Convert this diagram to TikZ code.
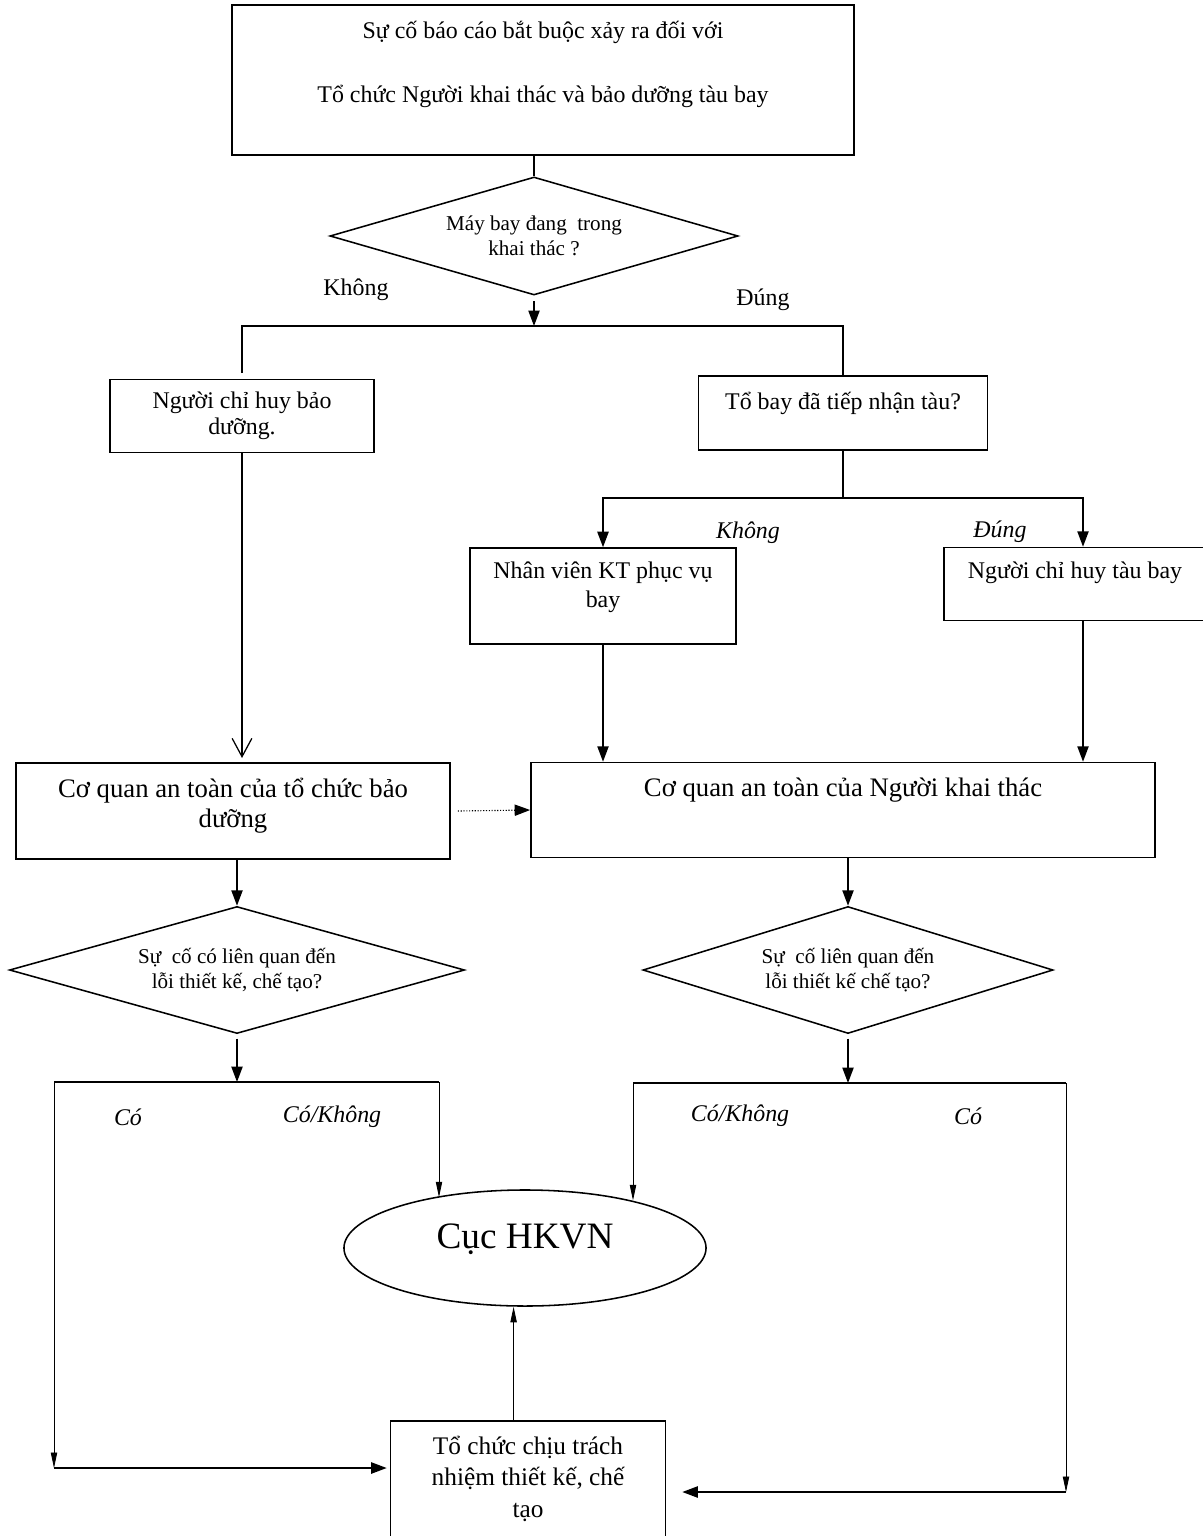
\documentclass[tikz,border=0pt]{standalone}
\usepackage{fontspec}
\setmainfont{Liberation Serif}
\usetikzlibrary{arrows.meta,shapes.geometric}

\begin{document}
\begin{tikzpicture}[x=0.025cm, y=-0.025cm,
    box/.style={draw, line width=1.1pt, align=center, inner sep=0pt},
    dec/.style={draw, diamond, aspect=3.5, line width=1.1pt, align=center, inner sep=0pt},
    ln/.style={line width=1.1pt},
    arr/.style={line width=1.1pt, -{Triangle[length=11pt,width=8pt]}},
    thinarr/.style={line width=0.6pt, -{Triangle[length=11pt,width=4.5pt]}},
    vee/.style={line width=0.9pt, -{Straight Barb[length=13pt,width=14pt]}},
    lbl/.style={inner sep=0pt, font=\fontsize{17}{20}\selectfont},
    ilbl/.style={inner sep=0pt, font=\fontsize{17}{20}\selectfont\itshape}]
  \useasboundingbox (0,0) rectangle (1202,1536);

  % boxes and decisions
  \node[box, minimum width=15.55cm, minimum height=3.75cm, text depth=26pt, font=\fontsize{17}{20}\selectfont] (top) at (543,80) {Sự cố báo cáo bắt buộc xảy ra đối với\\[26pt]Tổ chức Người khai thác và bảo dưỡng tàu bay};
  \node[dec, minimum width=10.2cm, minimum height=2.95cm, font=\fontsize{15}{18}\selectfont] (may) at (534,236) {Máy bay đang\ \ trong\\khai thác ?};
  \node[box, minimum width=6.6cm, minimum height=1.825cm, font=\fontsize{17}{18.5}\selectfont] (nguoiBD) at (242,416) {Người chỉ huy bảo\\dưỡng.};
  \node[box, minimum width=7.225cm, minimum height=1.85cm, text depth=17.7pt, font=\fontsize{17}{20}\selectfont] (toBay) at (843,413) {Tổ bay đã tiếp nhận tàu?};
  \node[box, minimum width=6.65cm, minimum height=2.4cm, text depth=15.7pt, font=\fontsize{17}{20.6}\selectfont] (nhanVien) at (603,596) {Nhân viên KT phục vụ\\bay};
  \node[box, minimum width=6.55cm, minimum height=1.825cm, text depth=19.7pt, font=\fontsize{17}{20}\selectfont] (nguoiTB) at (1075,584) {Người chỉ huy tàu bay};
  \node[box, minimum width=10.85cm, minimum height=2.4cm, text depth=12pt, font=\fontsize{19}{21.5}\selectfont] (coqBD) at (233,811) {Cơ quan an toàn của tổ chức bảo\\dưỡng};
  \node[box, minimum width=15.6cm, minimum height=2.375cm, text depth=33pt, font=\fontsize{19}{21.5}\selectfont] (coqKT) at (843,810) {Cơ quan an toàn của Người khai thác};
  \node[dec, minimum width=11.375cm, minimum height=3.175cm, font=\fontsize{15}{18}\selectfont] (loiBD) at (237,970) {Sự\ \ cố có liên quan đến\\lỗi thiết kế, chế tạo?};
  \node[dec, minimum width=10.25cm, minimum height=3.175cm, font=\fontsize{15}{18}\selectfont] (loiKT) at (848,970) {Sự\ \ cố liên quan đến\\lỗi thiết kế chế tạo?};
  \node[draw, ellipse, line width=1.1pt, inner sep=0pt, minimum width=9.05cm, minimum height=2.9cm, text depth=17.5pt, font=\fontsize{26.5}{30}\selectfont] (cuc) at (525,1248) {Cục HKVN};
  \node[box, minimum width=6.875cm, minimum height=3.1cm, text depth=9pt, font=\fontsize{18}{22.5}\selectfont] (thietKe) at (528,1483) {Tổ chức chịu trách\\nhiệm thiết kế, chế\\tạo};

  % branch labels
  \node[lbl] (khong) at (356,290) {Không};
  \node[lbl] (dung) at (763,300) {Đúng};
  \node[ilbl] (khong2) at (748,533) {Không};
  \node[ilbl] (dung2) at (1000,532) {Đúng};
  \node[ilbl] (co1) at (128,1117) {Có};
  \node[ilbl] (coK1) at (332,1117) {Có/Không};
  \node[ilbl] (coK2) at (740,1116) {Có/Không};
  \node[ilbl] (co2) at (968,1116) {Có};

  \coordinate (s1) at (534,326);
  \coordinate (s2) at (843,498);
  \coordinate (s3) at (237,1082);
  \coordinate (s3l) at (54,1082);
  \coordinate (s3r) at (439,1082);
  \coordinate (s4) at (848,1083);
  \coordinate (s4l) at (633,1083);
  \coordinate (s4r) at (1066,1083);
  \coordinate (c1) at (54,1468);
  \coordinate (c2) at (1066,1492);

  \draw[ln] (top.south -| may.north) -- (may.north);
  \draw[arr] ([yshift=-4pt]may.south) -- (s1);
  \draw[ln] ([yshift=4pt]nguoiBD.north) |- (s1) -| (toBay.north);
  \draw[vee] (nguoiBD.south) -- ([yshift=3pt]nguoiBD.south |- coqBD.north);
  \draw[ln] (toBay.south) -- (s2);
  \draw[arr] (s2) -| (nhanVien.north);
  \draw[arr] (s2) -| ([xshift=0.2cm]nguoiTB.north);
  \draw[arr] (nhanVien.south) -- (nhanVien.south |- coqKT.north);
  \draw[arr] ([xshift=0.2cm]nguoiTB.south) -- ([xshift=0.2cm]nguoiTB.south |- coqKT.north);
  \draw[arr, line width=0.8pt, dash pattern=on 0.8pt off 1.2pt] ([xshift=0.175cm]coqBD.east) -- (coqKT.west);

  \draw[arr] (loiBD.north |- coqBD.south) -- (loiBD.north);
  \draw[arr] ([yshift=-3pt]loiBD.south) -- (s3);
  \draw[ln] (s3l) -- (s3r);
  \draw[thinarr] (s3l) -- (c1);
  \draw[arr] (c1) -- ([xshift=-0.075cm]c1 -| thietKe.west);
  \draw[thinarr, shorten >=-0.2cm] (s3r) -- (s3r |- cuc.north);

  \draw[arr] (coqKT.south -| loiKT.north) -- (loiKT.north);
  \draw[arr] ([yshift=-3pt]loiKT.south) -- (s4);
  \draw[ln] (s4l) -- (s4r);
  \draw[thinarr, shorten >=-0.28cm] (s4l) -- (s4l |- cuc.north);
  \draw[thinarr] (s4r) -- (c2);
  \draw[arr] (c2) -- ([xshift=0.4cm]c2 -| thietKe.east);
  \draw[thinarr] ([xshift=-0.36cm]thietKe.north) -- ([xshift=-0.36cm]thietKe.north |- cuc.south);
\end{tikzpicture}
\end{document}
